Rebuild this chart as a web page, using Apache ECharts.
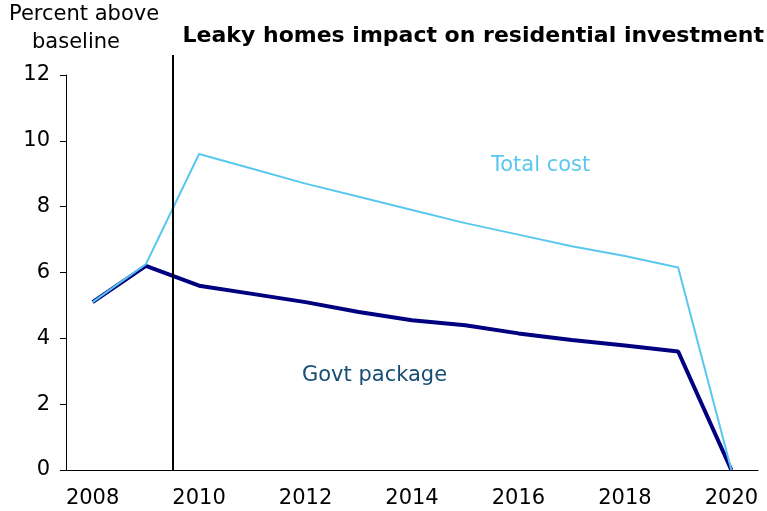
<!DOCTYPE html>
<html>
<head>
<meta charset="utf-8">
<script src="https://cdn.jsdelivr.net/npm/echarts@6/dist/echarts.min.js"></script>
<style>
  html, body { margin: 0; padding: 0; background: #fff; }
  #chart { width: 767px; height: 511px; }
</style>
</head>
<body>
<div id="chart"></div>
<script>
  // years on the x axis
  var years = ['2008', '2009', '2010', '2011', '2012', '2013', '2014', '2015', '2016', '2017', '2018', '2019', '2020'];
  // percent above baseline
  var totalCost = [5.1, 6.25, 9.6, 9.15, 8.7, 8.3, 7.9, 7.5, 7.15, 6.8, 6.5, 6.15, 0];
  var govtPackage = [5.1, 6.2, 5.6, 5.35, 5.1, 4.8, 4.55, 4.4, 4.15, 3.95, 3.78, 3.6, 0];
  var yTicks = [0, 2, 4, 6, 8, 10, 12];
  // divider sits between 2009 and 2010 (index units on the hidden axis)
  var dividerAt = 2;

  var font = 'DejaVu Sans, Verdana, sans-serif';

  var option = {
    animation: false,
    backgroundColor: '#fff',
    textStyle: { fontFamily: font },
    grid: [
      { left: 66, right: 9, top: 75, bottom: 41 },
      { left: 66, right: 9, top: 55, bottom: 41 }
    ],
    xAxis: [
      {
        type: 'category',
        gridIndex: 0,
        data: years,
        boundaryGap: true,
        axisLine: { lineStyle: { color: '#000', width: 1 } },
        axisTick: { interval: 0, length: 6, lineStyle: { color: '#000' } },
        axisLabel: { interval: 1, color: '#000', fontSize: 21, fontFamily: font, margin: 18 },
        splitLine: { show: false }
      },
      {
        type: 'value',
        gridIndex: 1,
        min: 0,
        max: years.length,
        show: false
      }
    ],
    yAxis: [
      {
        type: 'value',
        gridIndex: 0,
        min: yTicks[0],
        max: yTicks[yTicks.length - 1],
        interval: 2,
        axisLine: { show: true, lineStyle: { color: '#000', width: 1 } },
        axisTick: { show: true, length: 6, lineStyle: { color: '#000' } },
        axisLabel: { color: '#000', fontSize: 21, fontFamily: font, margin: 16 },
        splitLine: { show: false }
      },
      {
        type: 'value',
        gridIndex: 1,
        min: 0,
        max: 1,
        show: false
      }
    ],
    series: [
      {
        name: 'Govt package',
        type: 'line',
        data: govtPackage,
        symbol: 'none',
        lineStyle: { color: '#000080', width: 4 },
        z: 2
      },
      {
        name: 'Total cost',
        type: 'line',
        data: totalCost,
        symbol: 'none',
        lineStyle: { color: '#5ac8ee', width: 2 },
        z: 3
      },
      {
        name: 'divider',
        type: 'line',
        xAxisIndex: 1,
        yAxisIndex: 1,
        data: [],
        markLine: {
          silent: true,
          symbol: 'none',
          label: { show: false },
          lineStyle: { color: '#000', width: 2, type: 'solid' },
          data: [{ xAxis: dividerAt }]
        }
      }
    ],
    graphic: [
      {
        type: 'text', left: 9, top: 4,
        style: { text: 'Percent above', font: '21px ' + font, fill: '#000' }
      },
      {
        type: 'text', left: 32, top: 32,
        style: { text: 'baseline', font: '21px ' + font, fill: '#000' }
      },
      {
        type: 'text', right: 3, top: 25,
        style: { text: 'Leaky homes impact on residential investment', font: 'bold 22px ' + font, fill: '#000' }
      },
      {
        type: 'text', left: 491, top: 155,
        style: { text: 'Total cost', font: '21px ' + font, fill: '#5ac8ee' }
      },
      {
        type: 'text', left: 302, top: 365,
        style: { text: 'Govt package', font: '21px ' + font, fill: '#174e74' }
      }
    ]
  };

  echarts.init(document.getElementById('chart')).setOption(option);
</script>
</body>
</html>
